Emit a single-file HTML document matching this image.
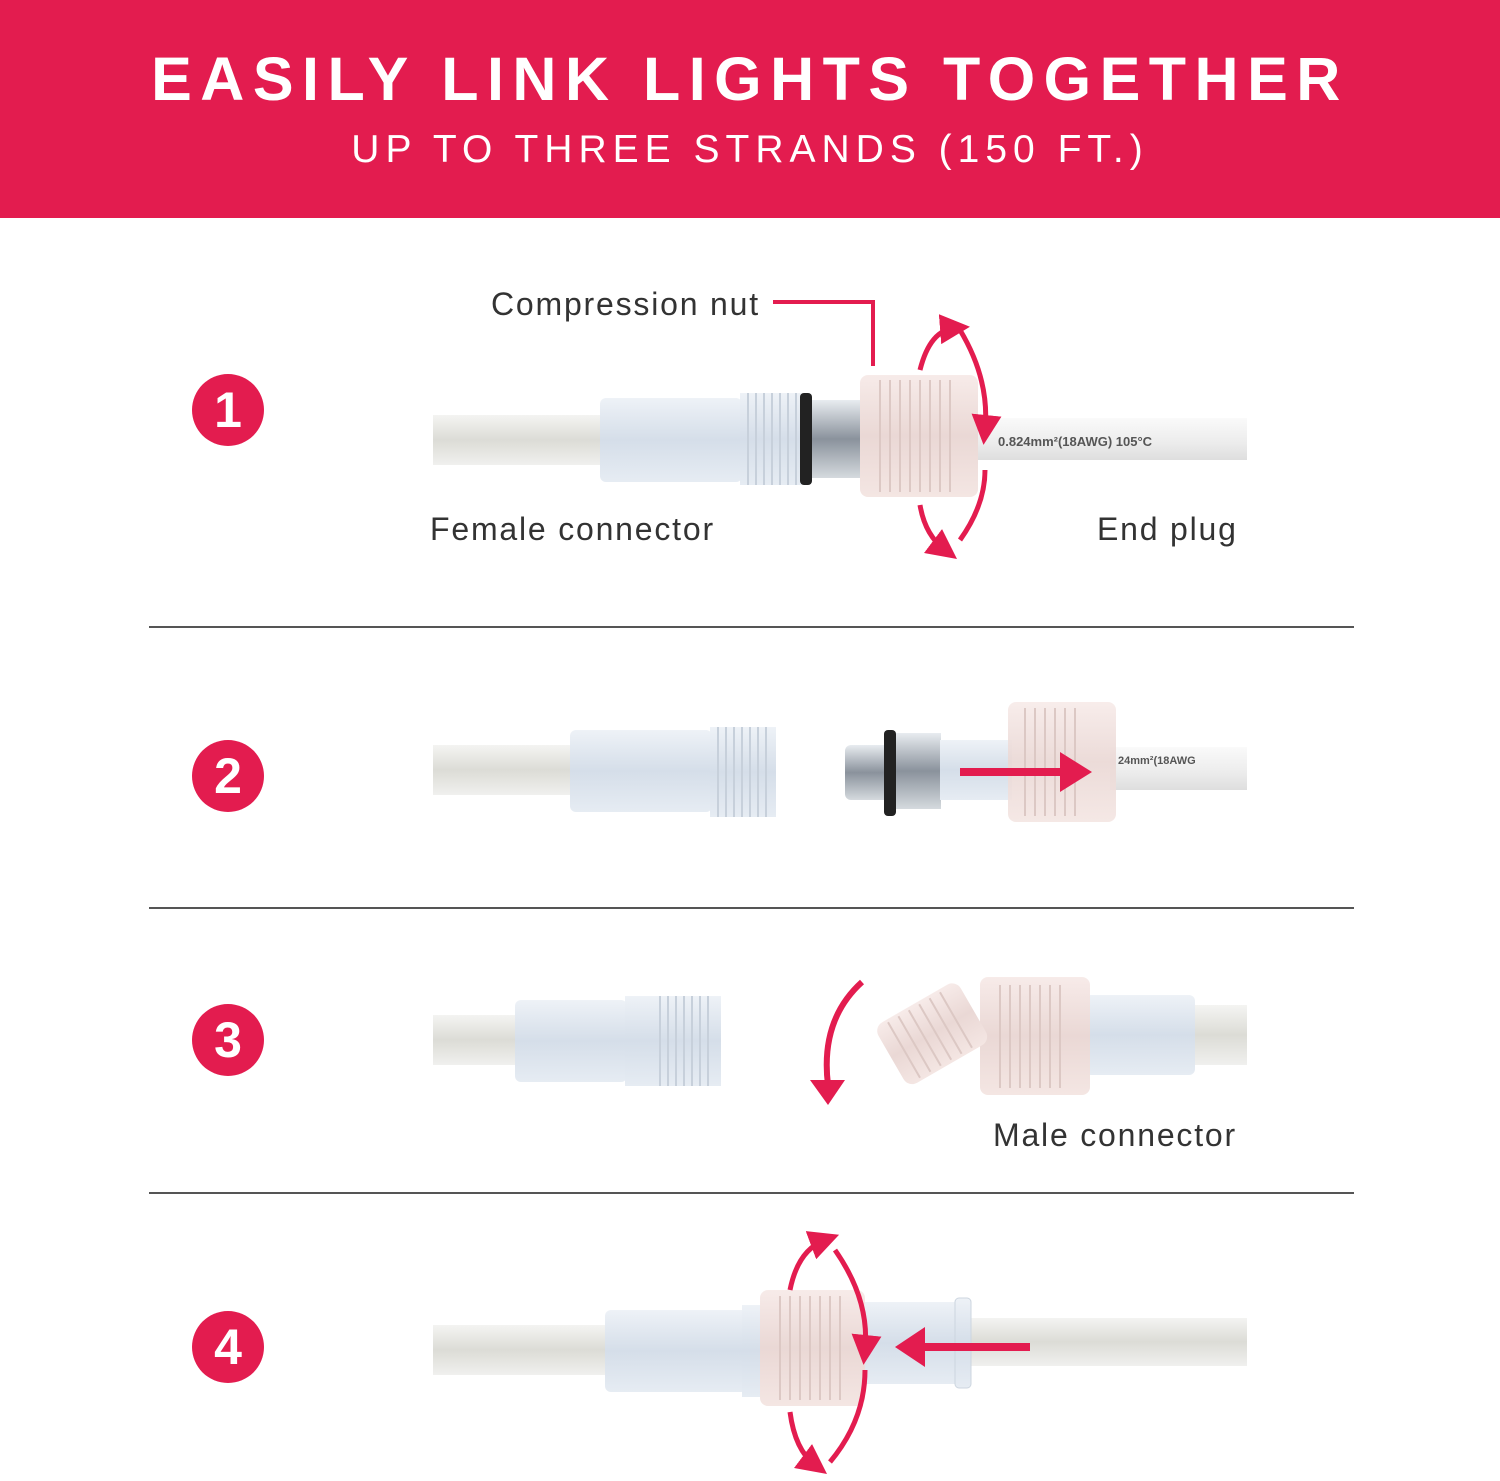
<!DOCTYPE html>
<html><head><meta charset="utf-8"><style>
body{margin:0;width:1500px;height:1481px;background:#fff;overflow:hidden;position:relative;font-family:"Liberation Sans",sans-serif}
.hdr{position:absolute;left:0;top:0;width:1500px;height:218px;background:#e31c4f}
.t1{position:absolute;left:0;width:1500px;text-align:center;top:44px;color:#fff;font-size:61px;font-weight:bold;letter-spacing:8.5px}
.t2{position:absolute;left:0;width:1500px;text-align:center;top:128px;color:#fff;font-size:39px;letter-spacing:6px}
.lbl{position:absolute;font-size:32px;color:#333;letter-spacing:1.8px}
.hr{position:absolute;left:149px;width:1205px;height:2px;background:#555}
.num{position:absolute;width:72px;height:72px;border-radius:50%;background:#e31c4f;color:#fff;font-size:50px;font-weight:bold;text-align:center;line-height:72px}
svg{position:absolute;left:0;top:0}
</style></head><body>
<div class="hdr"></div>
<div class="t1">EASILY LINK LIGHTS TOGETHER</div>
<div class="t2">UP TO THREE STRANDS (150 FT.)</div>
<div class="num" style="left:192px;top:374px">1</div>
<div class="num" style="left:192px;top:740px">2</div>
<div class="num" style="left:192px;top:1004px">3</div>
<div class="num" style="left:192px;top:1311px">4</div>
<div class="hr" style="top:626px"></div>
<div class="hr" style="top:907px"></div>
<div class="hr" style="top:1192px"></div>
<div class="lbl" style="left:491px;top:286px">Compression nut</div>
<div class="lbl" style="left:430px;top:511px">Female connector</div>
<div class="lbl" style="left:1097px;top:511px">End plug</div>
<div class="lbl" style="left:993px;top:1117px">Male connector</div>
<svg width="1500" height="1481">
<defs>
<linearGradient id="cab" x1="0" y1="0" x2="0" y2="1"><stop offset="0" stop-color="#f4f4f2"/><stop offset=".5" stop-color="#dcdcd6"/><stop offset="1" stop-color="#f0f0ee"/></linearGradient>
<linearGradient id="bod" x1="0" y1="0" x2="0" y2="1"><stop offset="0" stop-color="#eef2f7"/><stop offset=".5" stop-color="#d5dee9"/><stop offset="1" stop-color="#e6ecf3"/></linearGradient>
<linearGradient id="nut" x1="0" y1="0" x2="0" y2="1"><stop offset="0" stop-color="#f7ebe9"/><stop offset=".5" stop-color="#ead8d5"/><stop offset="1" stop-color="#f4e6e3"/></linearGradient>
<linearGradient id="sil" x1="0" y1="0" x2="0" y2="1"><stop offset="0" stop-color="#e8ecf0"/><stop offset=".5" stop-color="#8a929c"/><stop offset="1" stop-color="#d5dade"/></linearGradient>
<linearGradient id="wht" x1="0" y1="0" x2="0" y2="1"><stop offset="0" stop-color="#fafafa"/><stop offset=".6" stop-color="#ececec"/><stop offset="1" stop-color="#dedede"/></linearGradient>
<marker id="ah" markerWidth="6" markerHeight="6" refX="3" refY="3" orient="auto" markerUnits="strokeWidth"><path d="M0,0 L6,3 L0,6 z" fill="#e31c4f"/></marker>
</defs>
<g fill="none" stroke="#e31c4f" stroke-width="4">
<path d="M773,302 H873 V366"/>
</g>
<rect x="433" y="415" width="172" height="50" fill="url(#cab)"/>
<rect x="600" y="398" width="142" height="84" rx="6" fill="url(#bod)"/>
<rect x="740" y="393" width="62" height="92" fill="url(#bod)"/>
<g stroke="#c7d0db" stroke-width="2"><path d="M748,393V485M756,393V485M764,393V485M772,393V485M780,393V485M788,393V485M796,393V485"/></g>
<rect x="800" y="393" width="12" height="92" rx="4" fill="#222"/>
<rect x="812" y="400" width="48" height="78" fill="url(#sil)"/>
<rect x="975" y="418" width="272" height="42" fill="url(#wht)"/>
<text x="998" y="446" font-size="13" fill="#555" font-weight="bold">0.824mm²(18AWG)  105°C</text>
<rect x="860" y="375" width="118" height="122" rx="8" fill="url(#nut)"/>
<g stroke="#dcc8c4" stroke-width="2"><path d="M880,380V492M890,380V492M900,380V492M910,380V492M920,380V492M930,380V492M940,380V492M950,380V492"/></g>
<g fill="none" stroke="#e31c4f" stroke-width="5">
<path d="M920,370 Q930,330 955,328" marker-end="url(#ah)"/>
<path d="M960,330 Q990,380 985,430" marker-end="url(#ah)"/>
<path d="M920,505 Q925,535 945,550" marker-end="url(#ah)"/>
<path d="M960,540 Q985,505 985,470"/>
</g>
<rect x="433" y="745" width="142" height="50" fill="url(#cab)"/>
<rect x="570" y="730" width="142" height="82" rx="6" fill="url(#bod)"/>
<rect x="710" y="727" width="66" height="90" fill="url(#bod)"/>
<g stroke="#c7d0db" stroke-width="2"><path d="M718,727V817M726,727V817M734,727V817M742,727V817M750,727V817M758,727V817M766,727V817"/></g>
<rect x="845" y="745" width="45" height="55" rx="6" fill="url(#sil)"/>
<rect x="884" y="730" width="12" height="86" rx="4" fill="#222"/>
<rect x="896" y="733" width="45" height="76" fill="url(#sil)"/>
<rect x="940" y="740" width="72" height="60" fill="url(#bod)"/>
<rect x="1110" y="747" width="137" height="43" fill="url(#wht)"/>
<text x="1118" y="764" font-size="11" fill="#555" font-weight="bold">24mm²(18AWG</text>
<rect x="1008" y="702" width="108" height="120" rx="8" fill="url(#nut)" opacity=".92"/>
<g stroke="#dcc8c4" stroke-width="2"><path d="M1025,708V816M1035,708V816M1045,708V816M1055,708V816M1065,708V816M1075,708V816"/></g>
<path d="M960,772 H1062" stroke="#e31c4f" stroke-width="8"/>
<path d="M1060,752 L1092,772 L1060,792z" fill="#e31c4f"/>
<rect x="433" y="1015" width="87" height="50" fill="url(#cab)"/>
<rect x="515" y="1000" width="112" height="82" rx="6" fill="url(#bod)"/>
<rect x="625" y="996" width="96" height="90" fill="url(#bod)"/>
<g stroke="#c7d0db" stroke-width="2"><path d="M660,996V1086M668,996V1086M676,996V1086M684,996V1086M692,996V1086M700,996V1086M708,996V1086"/></g>
<rect x="1190" y="1005" width="57" height="60" fill="url(#cab)"/>
<rect x="1085" y="995" width="110" height="80" rx="6" fill="url(#bod)"/>
<rect x="980" y="977" width="110" height="118" rx="8" fill="url(#nut)"/>
<g stroke="#dcc8c4" stroke-width="2"><path d="M1000,985V1088M1010,985V1088M1020,985V1088M1030,985V1088M1040,985V1088M1050,985V1088M1060,985V1088"/></g>
<g transform="rotate(-30 930 1035)"><rect x="885" y="1000" width="95" height="70" rx="10" fill="url(#nut)"/><g stroke="#dcc8c4" stroke-width="2"><path d="M900,1003V1067M912,1003V1067M924,1003V1067M936,1003V1067M948,1003V1067M960,1003V1067"/></g></g>
<path d="M862,982 Q820,1020 828,1085" fill="none" stroke="#e31c4f" stroke-width="6"/>
<path d="M810,1080 L828,1105 L845,1080z" fill="#e31c4f"/>
<rect x="433" y="1325" width="175" height="50" fill="url(#cab)"/>
<rect x="965" y="1318" width="282" height="48" fill="url(#cab)"/>
<rect x="605" y="1310" width="142" height="82" rx="6" fill="url(#bod)"/>
<rect x="862" y="1302" width="105" height="82" fill="url(#bod)"/>
<rect x="955" y="1298" width="16" height="90" rx="4" fill="url(#bod)" stroke="#ccd5df"/>
<rect x="742" y="1305" width="22" height="92" fill="url(#bod)"/>
<rect x="760" y="1290" width="105" height="116" rx="8" fill="url(#nut)"/>
<g stroke="#dcc8c4" stroke-width="2"><path d="M780,1296V1400M790,1296V1400M800,1296V1400M810,1296V1400M820,1296V1400M830,1296V1400M840,1296V1400"/></g>
<path d="M1030,1347 H920" stroke="#e31c4f" stroke-width="8"/>
<path d="M925,1327 L895,1347 L925,1367z" fill="#e31c4f"/>
<g fill="none" stroke="#e31c4f" stroke-width="5">
<path d="M790,1290 Q798,1250 825,1240" marker-end="url(#ah)"/>
<path d="M835,1250 Q870,1300 865,1350" marker-end="url(#ah)"/>
<path d="M790,1412 Q795,1450 815,1465" marker-end="url(#ah)"/>
<path d="M830,1462 Q865,1420 865,1370"/>
</g>
</svg>
</body></html>
